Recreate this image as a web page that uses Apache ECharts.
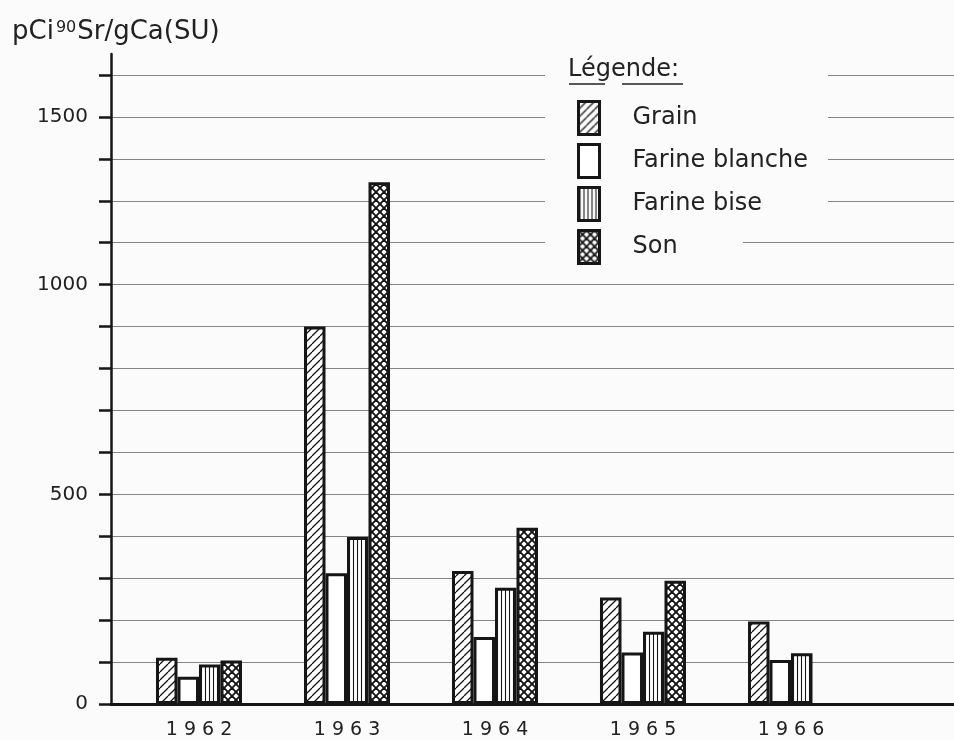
<!DOCTYPE html>
<html>
<head>
<meta charset="utf-8">
<script src="https://cdn.jsdelivr.net/npm/echarts@6/dist/echarts.min.js"></script>
<style>
html,body{margin:0;padding:0;background:#fbfbfb;}
#chart{width:954px;height:740px;}
</style>
</head>
<body>
<div id="chart"></div>
<script>
// ---- data ----
const categories = [1962, 1963, 1964, 1965, 1966];
const grain = [110, 900, 317, 254, 197];
const farineBlanche = [65, 312, 160, 123, 105];
const farineBise = [94, 398, 277, 172, 121];
const son = [104, 1244, 420, 294, null];
const seriesNames = ['Grain', 'Farine blanche', 'Farine bise', 'Son'];
const yTickValues = [0,100,200,300,400,500,600,700,800,900,1000,1100,1200,1300,1400,1500];
const yLabelValues = [0, 500, 1000, 1400];
const yLabelTexts = ['0', '500', '1000', '1500'];

const FONT = 'DejaVu Sans';
const INK = '#161616';

function makeTile(size, draw) {
  const c = document.createElement('canvas');
  c.width = size; c.height = size;
  const ctx = c.getContext('2d');
  ctx.fillStyle = '#ffffff';
  ctx.fillRect(0, 0, size, size);
  ctx.strokeStyle = INK;
  draw(ctx, size);
  return c;
}
const diagTile = makeTile(8, (ctx, s) => {
  ctx.lineWidth = 1.3;
  for (const k of [-s, 0, s]) {
    ctx.beginPath(); ctx.moveTo(k, s); ctx.lineTo(k + s, 0); ctx.stroke();
  }
});
const vertTile = makeTile(4, (ctx, s) => {
  ctx.lineWidth = 1.1;
  ctx.beginPath(); ctx.moveTo(1.5, 0); ctx.lineTo(1.5, s); ctx.stroke();
});
const crossTile = makeTile(8, (ctx, s) => {
  ctx.lineWidth = 1.9;
  for (const k of [-s, 0, s]) {
    ctx.beginPath(); ctx.moveTo(k, 0); ctx.lineTo(k + s, s); ctx.stroke();
    ctx.beginPath(); ctx.moveTo(k + s, 0); ctx.lineTo(k, s); ctx.stroke();
  }
});

const fills = [
  { image: diagTile, repeat: 'repeat' },
  '#ffffff',
  { image: vertTile, repeat: 'repeat' },
  { image: crossTile, repeat: 'repeat' }
];
const values = [grain, farineBlanche, farineBise, son];

const chart = echarts.init(document.getElementById('chart'), null, { renderer: 'canvas' });

const series = seriesNames.map((name, si) => ({
  name: name,
  type: 'bar',
  barWidth: 21.5,
  barGap: '0%',
  z: 2,
  data: categories.map((c, i) => [c, values[si][i]]),
  itemStyle: { color: fills[si], borderColor: INK, borderWidth: 3 }
}));

const option = {
  backgroundColor: '#fbfbfb',
  animation: false,
  textStyle: { fontFamily: FONT, color: '#222' },
  grid: { left: 111, right: 0, top: 54, bottom: 35 },
  xAxis: {
    type: 'value',
    min: 1961.4054,
    max: 1967.1014,
    axisLine: { show: true, onZero: false, lineStyle: { color: INK, width: 3 } },
    axisTick: { show: false },
    splitLine: { show: false },
    axisLabel: {
      customValues: categories,
      formatter: v => String(v).split('').join(' '),
      fontFamily: FONT, fontSize: 19, color: '#222', margin: 17
    }
  },
  yAxis: {
    type: 'value',
    min: 0,
    max: 1550,
    axisLine: { show: true, lineStyle: { color: INK, width: 2.5 } },
    axisTick: { show: true, customValues: yTickValues, length: 12, lineStyle: { color: INK, width: 2.5 } },
    axisLabel: {
      customValues: yLabelValues,
      formatter: v => yLabelTexts[yLabelValues.indexOf(v)],
      fontFamily: FONT, fontSize: 20, color: '#222', margin: 23
    },
    splitLine: { show: true, lineStyle: { color: '#858585', width: 1.2 } }
  },
  legend: {
    orient: 'vertical',
    left: 577,
    top: 100,
    padding: 0,
    itemGap: 7,
    itemWidth: 21,
    itemHeight: 33,
    selectedMode: false,
    z: 6,
    icon: 'rect',
    itemStyle: { borderColor: INK, borderWidth: 3 },
    textStyle: { fontFamily: FONT, fontSize: 24, lineHeight: 28, color: '#222', padding: [0, 0, 0, 28] },
    data: seriesNames
  },
  graphic: [
    { type: 'rect', z: 3, shape: { x: 545, y: 55, width: 283, height: 178 }, style: { fill: '#fbfbfb' } },
    { type: 'rect', z: 3, shape: { x: 545, y: 232, width: 198, height: 34 }, style: { fill: '#fbfbfb' } },
    { type: 'text', z: 7, left: 568, top: 58,
      style: { text: 'Légende:', fontFamily: FONT, fontSize: 24, fill: '#222' } },
    { type: 'line', z: 7, shape: { x1: 569, y1: 84, x2: 605, y2: 84 }, style: { stroke: '#222', lineWidth: 1.6 } },
    { type: 'line', z: 7, shape: { x1: 622, y1: 84, x2: 683, y2: 84 }, style: { stroke: '#222', lineWidth: 1.6 } },
    { type: 'text', z: 7, left: 12, top: 17,
      style: {
        text: '{a|pCi}{b|90}{a|Sr/gCa(SU)}',
        fontFamily: FONT,
        fill: '#222',
        rich: {
          a: { fontFamily: FONT, fontSize: 26, lineHeight: 30, fill: '#222' },
          b: { fontFamily: FONT, fontSize: 16, lineHeight: 30, verticalAlign: 'top', padding: [3, 1, 0, 2], fill: '#222' }
        }
      } }
  ],
  series: series
};
chart.setOption(option);
</script>
</body>
</html>
